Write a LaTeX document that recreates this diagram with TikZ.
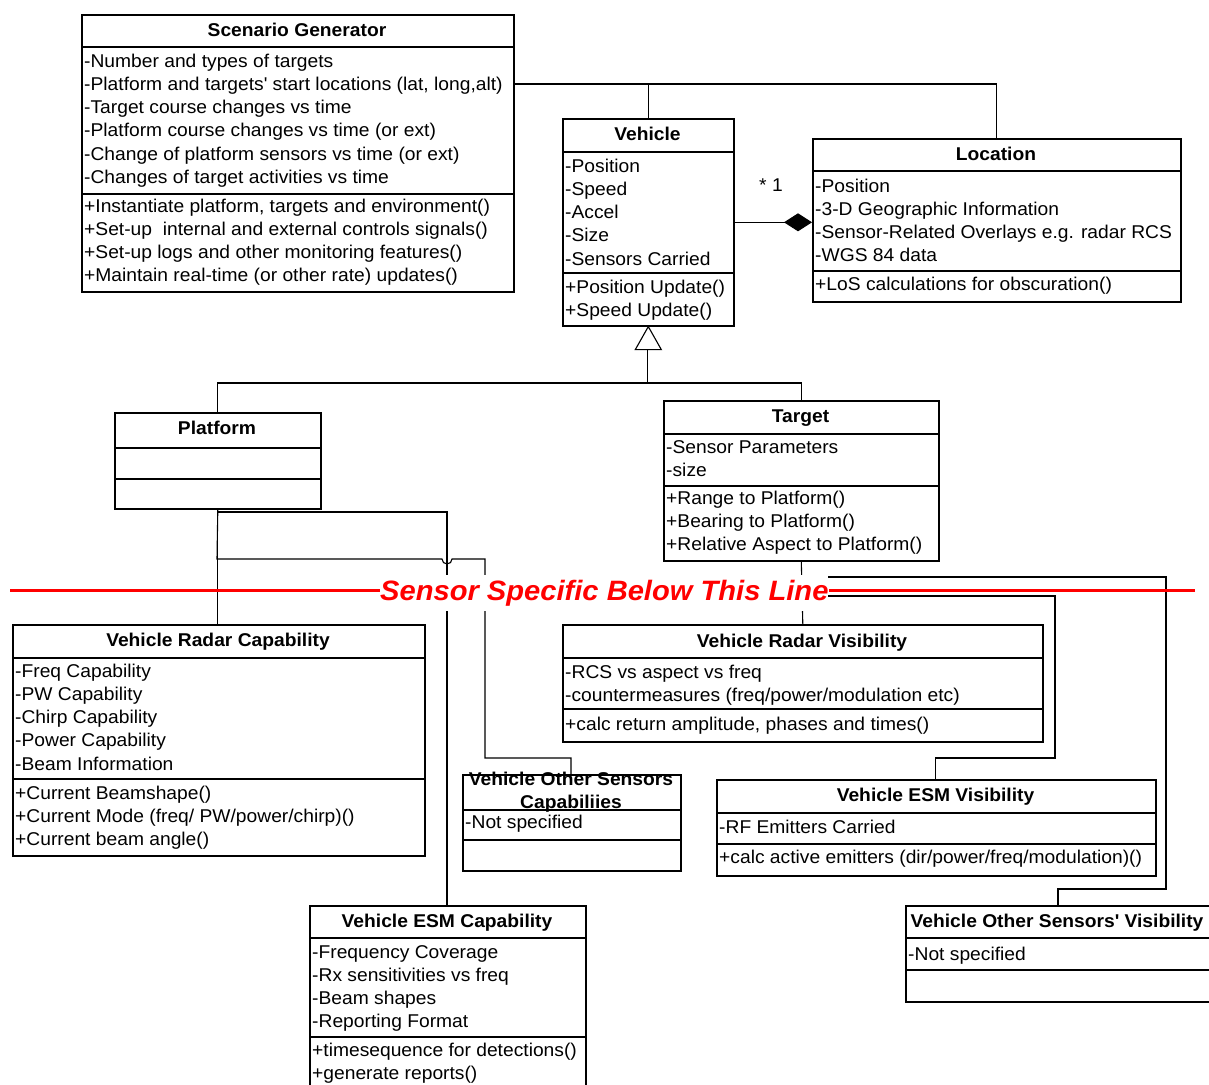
\documentclass[tikz,border=0pt]{standalone}
\usepackage{fontspec}
\setmainfont{Liberation Sans}[FakeStretch=1.04]
\usetikzlibrary{arrows.meta}
\tikzset{
  box/.style={draw=black, line width=1.6pt},
  conn/.style={draw=black, line width=1.1pt},
  txt/.style={anchor=base west, inner sep=0pt, font=\fontsize{18.5}{22}\selectfont},
  ttl/.style={anchor=base, inner sep=0pt, font=\fontsize{18.5}{22}\selectfont\bfseries},
}
\newcommand\umlclass[7]{%
  \node[box, anchor=north west, inner sep=0pt, minimum width={(#4)-(#2)}, minimum height={(#5)-(#3)}] (#1) at (#2,#3) {};
  \draw[box] (#2,#6) -- (#4,#6);
  \draw[box] (#2,#7) -- (#4,#7);
}
\newcommand\umllines[4]{%
  \foreach \t [count=\i from 0] in {#4} \node[txt] (#1\i) at (#2,{#3+23.3*\i}) {\t};
}
\begin{document}
\begin{tikzpicture}[x=1pt,y=-1pt]
\useasboundingbox (0,0) rectangle (1209,1084);
\fill[white] (0,0) rectangle (1209,1084);

% ---------- classes ----------
\umlclass{sg}{81}{14}{513}{291}{47}{194}
\node[ttl] (sgt) at (297,36) {Scenario Generator};
\umllines{sga}{84}{67}{-Number and types of targets, {-Platform and targets\textquotesingle{} start locations (lat, long,alt)}, -Target course changes vs time, -Platform course changes vs time (or ext), -Change of platform sensors vs time (or ext), -Changes of target activities vs time}
\umllines{sgm}{84}{212}{{+Instantiate platform, targets and environment()}, +Set-up \ internal and external controls signals(), +Set-up logs and other monitoring features(), +Maintain real-time (or other rate) updates()}

\umlclass{veh}{562}{118}{733}{325}{152}{273}
\node[ttl] (veht) at (647.5,140) {Vehicle};
\umllines{veha}{565}{172}{-Position, -Speed, -Accel, -Size, -Sensors Carried}
\umllines{vehm}{565}{293}{+Position Update(), +Speed Update()}

\umlclass{loc}{812}{138}{1180}{301}{171}{271}
\node[ttl] (loct) at (996,160) {Location};
\umllines{loca}{815}{192}{-Position, -3-D Geographic Information, -Sensor-Related Overlays e.g. radar RCS, -WGS 84 data}
\umllines{locm}{815}{290}{+LoS calculations for obscuration()}

\umlclass{plat}{114}{412}{320}{508}{448}{479}
\node[ttl] (platt) at (217,434) {Platform};

\umlclass{tgt}{663}{400}{938}{560}{434}{486}
\node[ttl] (tgtt) at (800.5,422) {Target};
\umllines{tgta}{666}{453}{-Sensor Parameters, -size}
\umllines{tgtm}{666}{504}{+Range to Platform(), +Bearing to Platform(), +Relative Aspect to Platform()}

\umlclass{rcap}{12}{624}{424}{855}{658}{779}
\node[ttl] (rcapt) at (218,646) {Vehicle Radar Capability};
\umllines{rcapa}{15}{677}{-Freq Capability, -PW Capability, -Chirp Capability, -Power Capability, -Beam Information}
\umllines{rcapm}{15}{799}{+Current Beamshape(), +Current Mode (freq/ PW/power/chirp)(), +Current beam angle()}

\umlclass{ocap}{462}{774}{680}{870}{810}{840}
\node[ttl] (ocapt1) at (571,785) {Vehicle Other Sensors};
\node[ttl] (ocapt2) at (571,808) {Capabiliies};
\umllines{ocapa}{465}{828}{-Not specified}

\umlclass{rvis}{562}{624}{1042}{741}{658}{709}
\node[ttl] (rvist) at (802,647) {Vehicle Radar Visibility};
\umllines{rvisa}{565}{678}{-RCS vs aspect vs freq, -countermeasures (freq/power/modulation etc)}
\umllines{rvism}{565}{730}{{+calc return amplitude, phases and times()}}

\umlclass{evis}{716}{779}{1155}{875}{813}{844}
\node[ttl] (evist) at (935.5,801) {Vehicle ESM Visibility};
\umllines{evisa}{719}{833}{-RF Emitters Carried}
\umllines{evism}{719}{863}{+calc active emitters (dir/power/freq/modulation)()}

\umlclass{ecap}{309}{905}{585}{1096}{938}{1037}
\node[ttl] (ecapt) at (447,927) {Vehicle ESM Capability};
\umllines{ecapa}{312}{958}{-Frequency Coverage, -Rx sensitivities vs freq, -Beam shapes, -Reporting Format}
\umllines{ecapm}{312}{1056}{+timesequence for detections(), +generate reports()}

\umlclass{ovis}{905}{905}{1212}{1001}{938}{970}
\node[ttl] (ovist) at (1057,927) {Vehicle Other Sensors\textquotesingle{} Visibility};
\umllines{ovisa}{908}{960}{-Not specified}

% ---------- connectors ----------
\coordinate (sgout) at (513,84);
\draw[conn] (sgout) -| (loc.north);
\draw[conn] (veh.north) -- (veh.north |- sgout);

\draw[conn, -{Diamond[length=28pt,width=18pt]}] (veh.east) -- (veh.east -| loc.west);
\node[txt, anchor=center] (mult) at (771,185) {* 1};

\coordinate (genb) at (647.5,348);
\coordinate (genj) at (647.5,383);
\draw[conn] (genb) -- (genj);
\draw[conn] (plat.north) |- (tgt.north |- genj) -- (tgt.north);
\draw[conn, fill=white] (veh.south) -- ++(-13,23) -- ++(26,0) -- cycle;

\coordinate (pj1) at (447,512);
\draw[conn] (plat.south) |- (pj1) -- (pj1 |- ecap.north);
\coordinate (ocin) at (571,758);
\draw[conn] (plat.south) -- (217,559) -- (442,559) arc[start angle=180, end angle=0, radius=5] -- (485,559) |- (ocin) -- (ocin |- ocap.north);
\draw[conn] (plat.south) -- (plat.south |- rcap.north);

\coordinate (ovin) at (1058,889);
\draw[conn] (tgt.south) |- (1166,577) |- (ovin) -- (ovin |- ovis.north);
\coordinate (evin) at (935.5,758);
\draw[conn] (tgt.south) |- (1055,596) |- (evin) -- (evin |- evis.north);
\draw[conn] (tgt.south) -- (rvis.north);

% ---------- sensor line ----------
\node[anchor=base west, inner xsep=0pt, inner ysep=5pt, fill=white, text=red,
      font=\fontsize{28}{30}\selectfont\bfseries\itshape] (sline) at (380,600) {Sensor Specific Below This Line};
\coordinate (redL) at (10,590);
\coordinate (redR) at (1195,590);
\draw[red, line width=3pt] (redL) -- (redL -| sline.west);
\draw[red, line width=3pt] (redR) -- (redR -| sline.east);
\end{tikzpicture}
\end{document}
